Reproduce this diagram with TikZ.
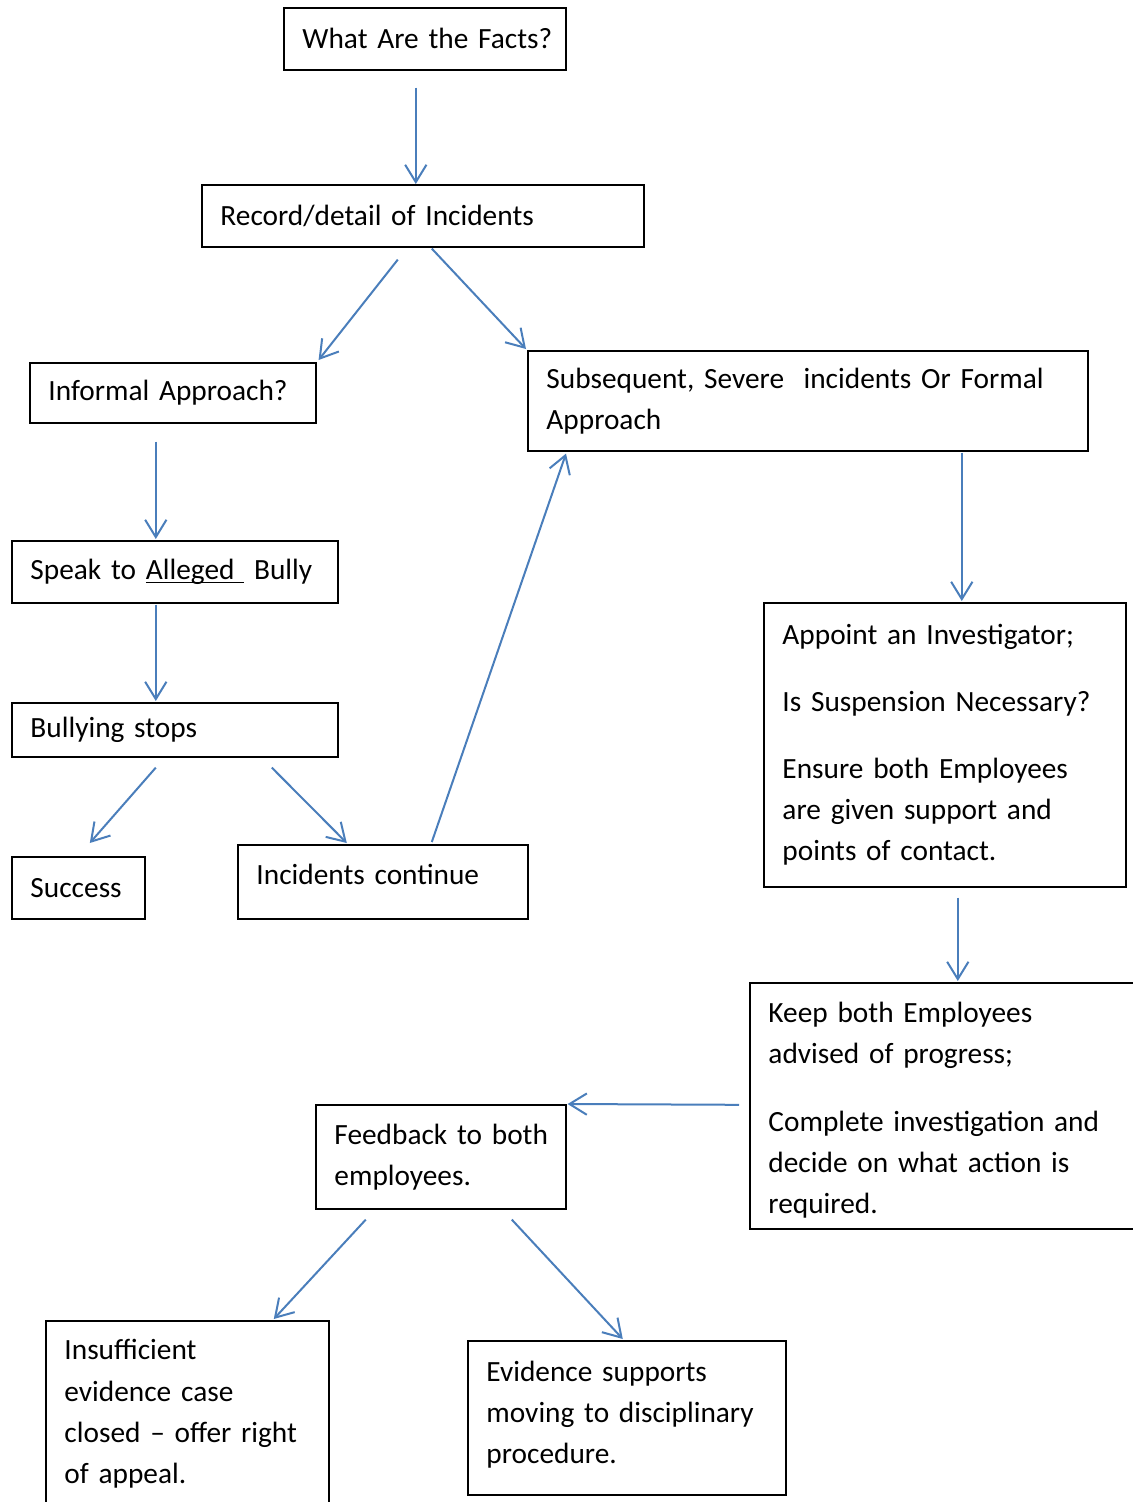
\documentclass[tikz,border=0pt]{standalone}
\usepackage{fontspec}
\setmainfont{Carlito}
\usepackage{tikz}
\usetikzlibrary{calc,arrows.meta}
\definecolor{lineblue}{RGB}{74,126,187}
\newcommand{\boxfont}{\fontsize{11pt}{15.4pt}\selectfont}
\newcommand{\lineunder}[1]{\setbox0\hbox{#1}\rlap{\rule[-1.3pt]{\wd0}{0.5pt}}\box0}

\begin{document}
\begin{tikzpicture}[x=0.375pt,y=-0.375pt,
		  box/.style={draw,line width=0.6pt,anchor=north west,align=left,
		    inner xsep=7pt,inner ysep=0pt,font=\boxfont},
		  dim/.style 2 args={minimum width=#1*0.375pt,minimum height=#2*0.375pt,
		    text width=#1*0.375pt-14pt},
		  link/.style={draw=lineblue,line width=0.75pt,
		    -{Straight Barb[length=6.5pt,width=8pt]}}
		]

			\useasboundingbox (0,0) rectangle (1133,1502);

			% the first steps
			\node[box,dim={282}{62}] (facts) at (283,7) {What~Are~the~Facts?};
			\node[box,dim={442}{62}] (record) at (201,184) {Record/detail of Incidents};

			% the informal way
			\node[box,dim={286}{60}] (informal) at (29,362) {Informal Approach?};
			\node[box,dim={326}{62}] (speak) at (11,540) {Speak to \lineunder{Alleged\ }\ Bully};
			\node[box,dim={326}{54}] (stops) at (11,702) {Bullying stops};
			\node[box,dim={133}{62}] (success) at (11,856) {Success};
			\node[box,dim={290}{74},text depth=5.5pt] (continue) at (237,844) {Incidents continue};

			% the formal way
			\node[box,dim={560}{100}] (formal) at (527,350)
			  {Subsequent, Severe\ \ incidents Or Formal\\ Approach};
			\node[box,dim={362}{284}] (appoint) at (763,602)
			  {Appoint an Investigator;\\[9.75pt] Is Suspension Necessary?\\[9.75pt]
			   Ensure both Employees\\ are given support and\\ points of contact.};
			\node[box,dim={391}{246},text height=11pt] (keep) at (749,982)
			  {Keep both Employees\\ advised of progress;\\[10pt]
			   Complete investigation and\\ decide on what action is\\ required.};

			% the outcome
			\node[box,dim={250}{104}] (feedback) at (315,1104) {Feedback~to~both\\ employees.};
			\node[box,dim={283}{186}] (closed) at (45,1320)
			  {Insufficient\\ evidence case\\ closed -- offer right\\ of appeal.};
			\node[box,dim={318}{154},text height=5pt] (evidence) at (467,1340)
			  {Evidence supports\\ moving to disciplinary\\ procedure.};

			% the arrows
			\draw[link] ($(facts.south)+(-9,17)$) -- ($(record.north)+(-7,0)$);
			\draw[link] ($(record.south)+(-25,12)$) -- ($(informal.north east)+(2,-2)$);
			\draw[link] ($(record.south)+(9,1)$) -- ($(formal.north west)+(-1,-1)$);
			\draw[link] ($(informal.south)+(-17,18)$) -- ($(speak.north)+(-19,-1)$);
			\draw[link] ($(speak.south)+(-19,1)$) -- ($(stops.north)+(-19,-1)$);
			\draw[link] ($(stops.south)+(-19,10)$) -- ($(success.north)+(11.5,-13)$);
			\draw[link] ($(stops.south)+(97,10)$) -- ($(continue.north)+(-36,-1)$);
			\draw[link] ($(continue.north)+(49,-2)$) -- ($(formal.south west)+(39,2)$);
			\draw[link] ($(formal.south)+(154,1)$) -- ($(appoint.north)+(17,-1)$);
			\draw[link] ($(appoint.south)+(13,10)$) -- ($(keep.north)+(12.5,-1)$);
			\draw[link] ($(keep.west)+(-10,-1)$) -- ($(feedback.north east)+(1,0)$);
			\draw[link] ($(feedback.south)+(-75,10)$) -- ($(closed.north)+(86.5,-1)$);
			\draw[link] ($(feedback.south)+(71,10)$) -- ($(evidence.north)+(-4,-1)$);

		\end{tikzpicture}
\end{document}
